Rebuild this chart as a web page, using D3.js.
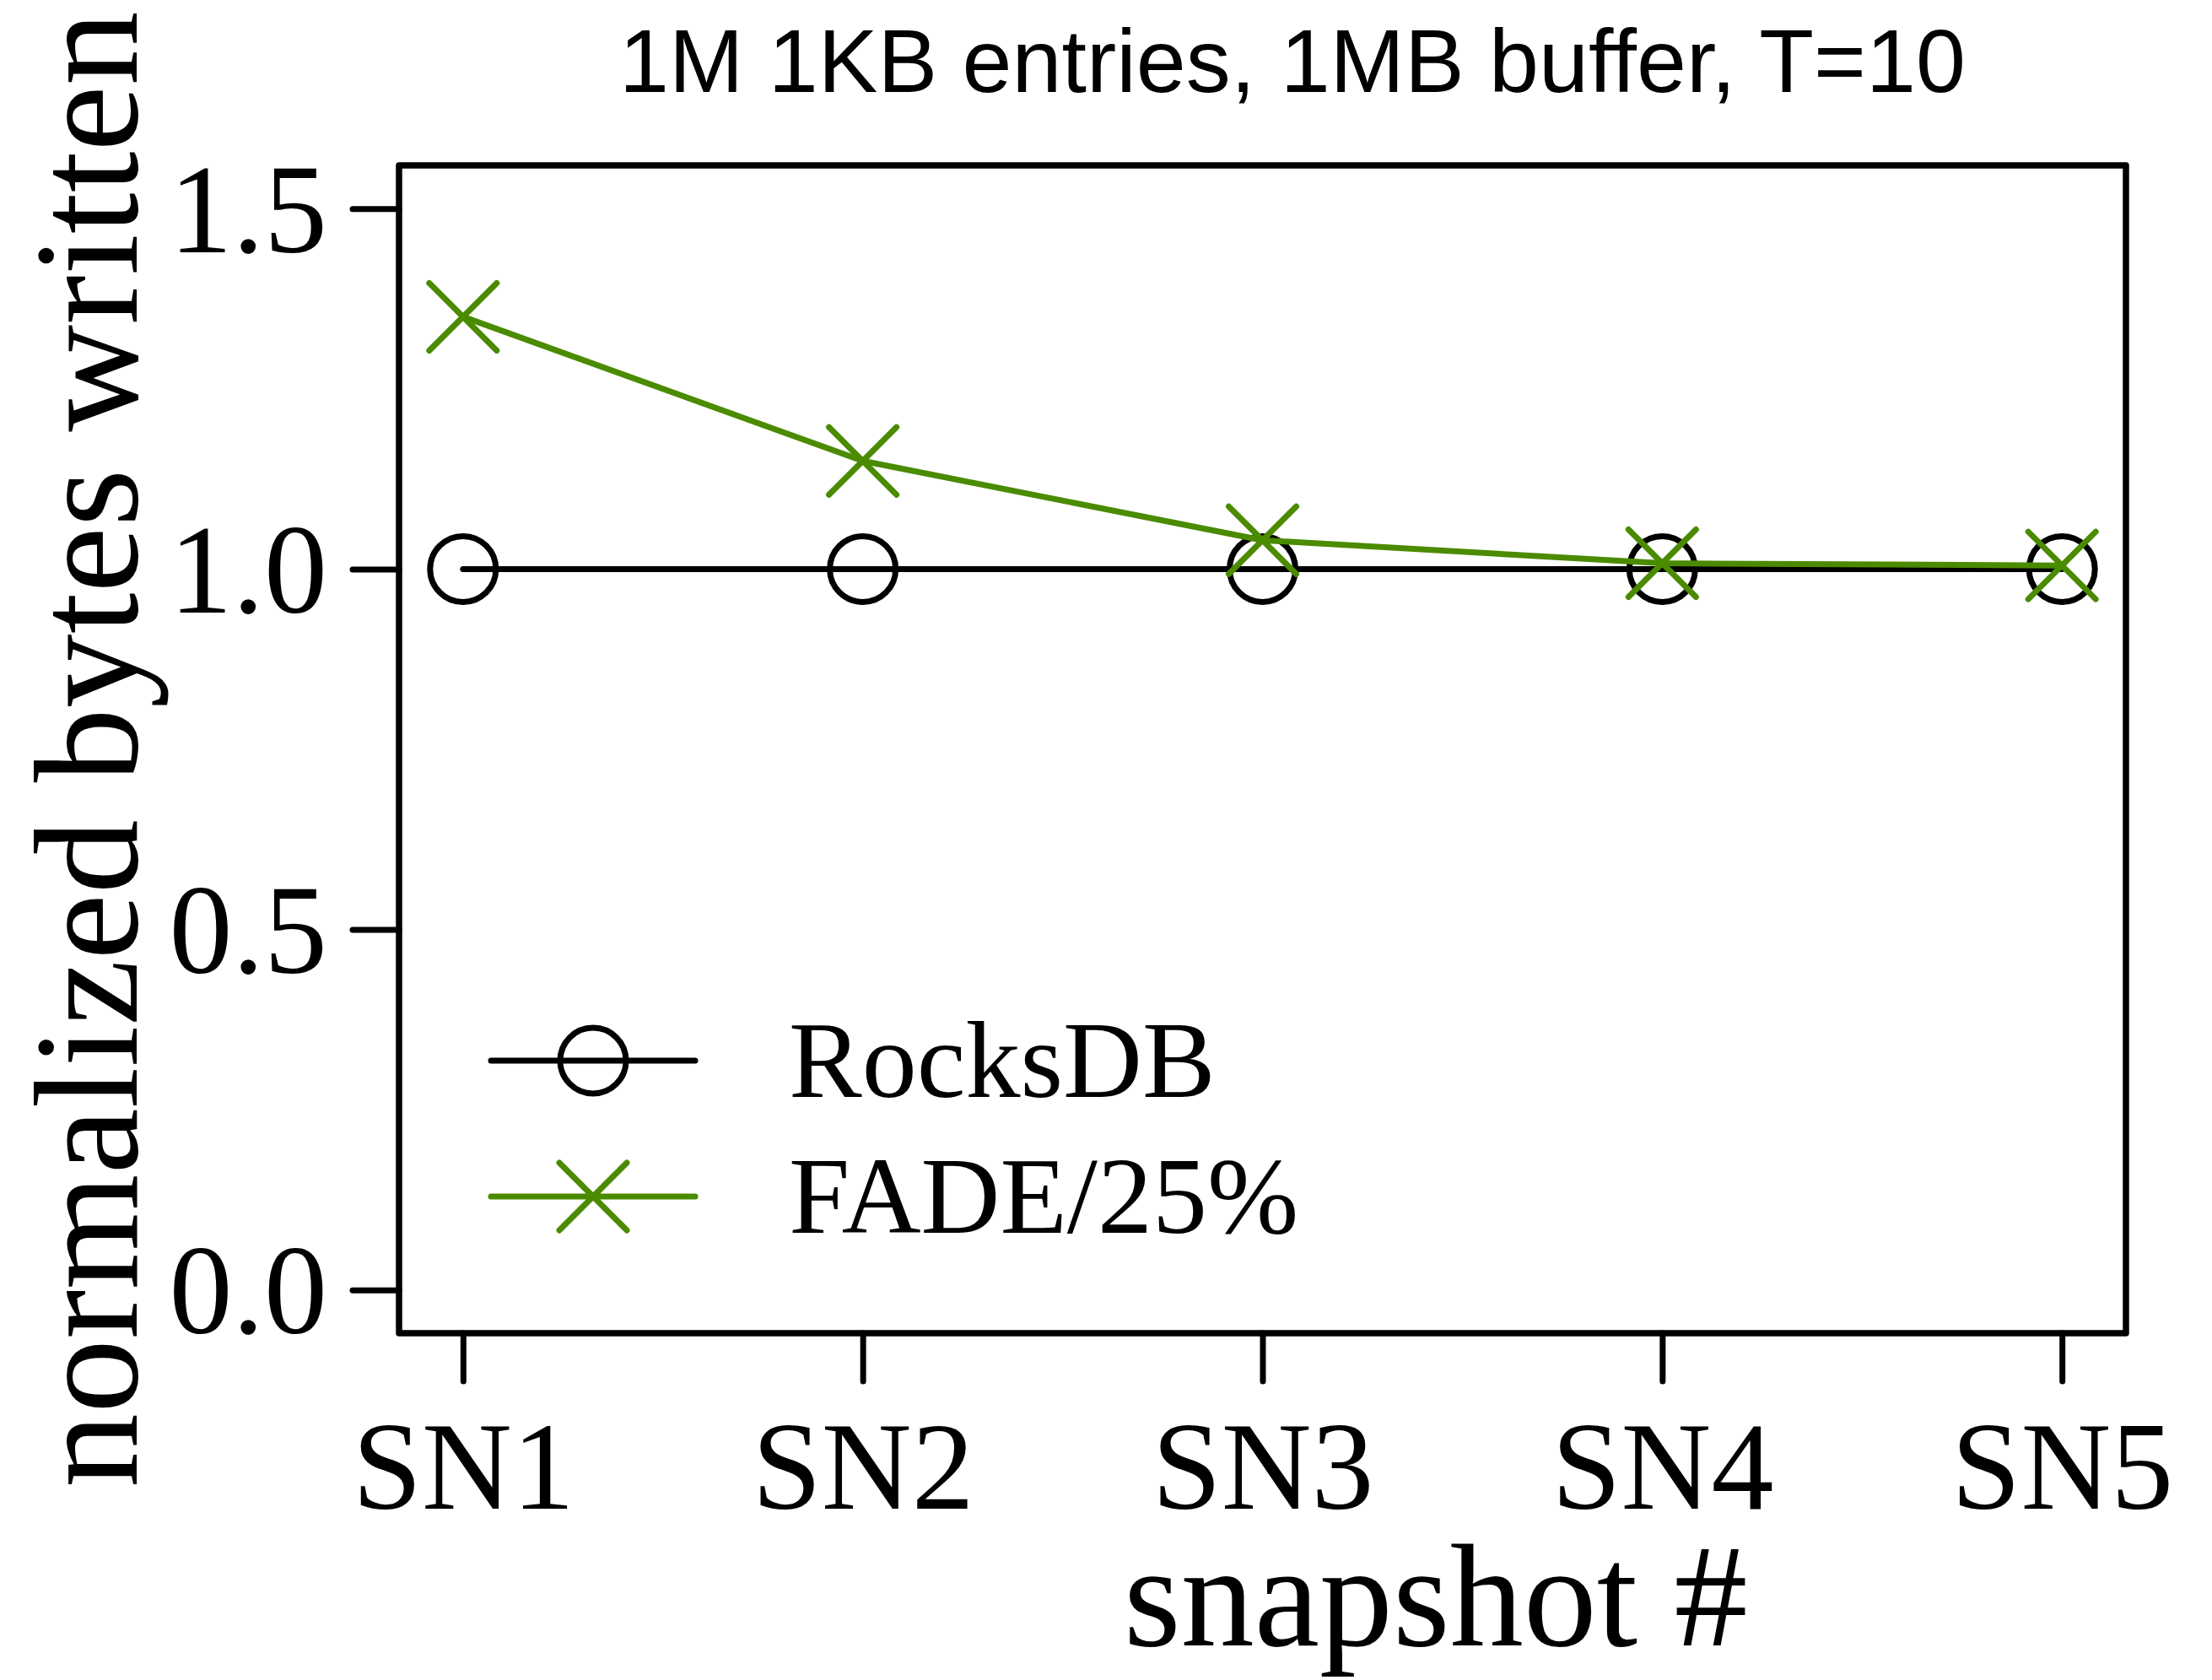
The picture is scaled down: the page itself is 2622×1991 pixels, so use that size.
<!DOCTYPE html>
<html>
<head>
<meta charset="utf-8">
<script src="https://cdn.jsdelivr.net/npm/d3@7"></script>
<style>
  html, body { margin: 0; padding: 0; background: #ffffff; }
  svg { display: block; }
</style>
</head>
<body>
<script>
// ---- data ----
const categories = ["SN1", "SN2", "SN3", "SN4", "SN5"];
const rocksdbValues = [1.0, 1.0, 1.0, 1.0, 1.0];
const fadeValues = [1.35, 1.15, 1.04, 1.008, 1.005];
const seriesNames = ["RocksDB", "FADE/25%"];
const yTickValues = [0.0, 0.5, 1.0, 1.5];
const yDomain = [-0.06, 1.56];
const chartTitle = "1M 1KB entries, 1MB buffer, T=10";
const xAxisTitle = "snapshot #";
const yAxisTitle = "normalized bytes written";

// ---- layout ----
const W = 2622, H = 1991;
const plot = { left: 473, right: 2520, top: 196, bottom: 1580 };
const GREEN = "#4a8b00";
const SERIF = "'Liberation Serif', 'Times New Roman', Times, serif";
const SANS = "'Liberation Sans', Arial, Helvetica, sans-serif";
const LW = 7;

const svg = d3.select("body").append("svg")
  .attr("width", W).attr("height", H)
  .attr("viewBox", `0 0 ${W} ${H}`);

const x = d3.scalePoint().domain(categories)
  .range([plot.left, plot.right]).padding(0.16);
const y = d3.scaleLinear().domain(yDomain)
  .range([plot.bottom, plot.top]);

// y axis
const yAxis = svg.append("g")
  .attr("transform", `translate(${plot.left},0)`)
  .call(d3.axisLeft(y).tickValues(yTickValues).tickSize(55).tickPadding(30)
    .tickFormat(d3.format(".1f")));
yAxis.select(".domain").remove();
yAxis.selectAll(".tick line").attr("stroke", "#000").attr("stroke-width", LW)
  .attr("stroke-linecap", "round");
yAxis.selectAll(".tick text").attr("font-family", SERIF).attr("font-size", 150)
  .attr("fill", "#000").attr("dy", "0.34em");

// x axis
const xAxis = svg.append("g")
  .attr("transform", `translate(0,${plot.bottom})`)
  .call(d3.axisBottom(x).tickSize(57).tickPadding(46));
xAxis.select(".domain").remove();
xAxis.selectAll(".tick line").attr("stroke", "#000").attr("stroke-width", LW)
  .attr("stroke-linecap", "round");
xAxis.selectAll(".tick text").attr("font-family", SERIF).attr("font-size", 148)
  .attr("fill", "#000");

// box
svg.append("rect")
  .attr("x", plot.left).attr("y", plot.top)
  .attr("width", plot.right - plot.left).attr("height", plot.bottom - plot.top)
  .attr("fill", "none").attr("stroke", "#000").attr("stroke-width", 7.5)
  .attr("stroke-linejoin", "round");

// series
const line = d3.line().x((d, i) => x(categories[i])).y(d => y(d));
const R = 39, XS = 40;

function drawCircle(g, cx, cy) {
  g.append("circle").attr("cx", cx).attr("cy", cy).attr("r", R)
    .attr("fill", "none").attr("stroke", "#000").attr("stroke-width", LW);
}
function drawX(g, cx, cy) {
  g.append("path")
    .attr("d", `M${cx - XS},${cy - XS}L${cx + XS},${cy + XS}M${cx - XS},${cy + XS}L${cx + XS},${cy - XS}`)
    .attr("fill", "none").attr("stroke", GREEN).attr("stroke-width", LW)
    .attr("stroke-linecap", "round");
}

const gR = svg.append("g");
gR.append("path").datum(rocksdbValues).attr("d", line)
  .attr("fill", "none").attr("stroke", "#000").attr("stroke-width", LW)
  .attr("stroke-linecap", "round").attr("stroke-linejoin", "round");
rocksdbValues.forEach((v, i) => drawCircle(gR, x(categories[i]), y(v)));

const gF = svg.append("g");
gF.append("path").datum(fadeValues).attr("d", line)
  .attr("fill", "none").attr("stroke", GREEN).attr("stroke-width", LW)
  .attr("stroke-linecap", "round").attr("stroke-linejoin", "round");
fadeValues.forEach((v, i) => drawX(gF, x(categories[i]), y(v)));

// legend
const leg = svg.append("g");
const legX0 = 582, legX1 = 824, legMid = 703, legTextX = 935;
const legRows = [1257, 1418];
leg.append("line").attr("x1", legX0).attr("x2", legX1).attr("y1", legRows[0]).attr("y2", legRows[0])
  .attr("stroke", "#000").attr("stroke-width", LW).attr("stroke-linecap", "round");
drawCircle(leg, legMid, legRows[0]);
leg.append("line").attr("x1", legX0).attr("x2", legX1).attr("y1", legRows[1]).attr("y2", legRows[1])
  .attr("stroke", GREEN).attr("stroke-width", LW).attr("stroke-linecap", "round");
drawX(leg, legMid, legRows[1]);
seriesNames.forEach((name, i) => {
  leg.append("text").attr("x", legTextX).attr("y", legRows[i]).attr("dy", "0.33em")
    .attr("font-family", SERIF).attr("font-size", 130).attr("fill", "#000").text(name);
});

// titles
svg.append("text").attr("x", 1532).attr("y", 109).attr("text-anchor", "middle")
  .attr("font-family", SANS).attr("font-size", 106).attr("font-weight", 300)
  .attr("fill", "#000").text(chartTitle);

svg.append("text").attr("x", 1332).attr("y", 1950).attr("text-anchor", "start")
  .attr("font-family", SERIF).attr("font-size", 174).attr("fill", "#000").text(xAxisTitle);

svg.append("text").attr("transform", "translate(162,1763) rotate(-90)")
  .attr("text-anchor", "start")
  .attr("font-family", SERIF).attr("font-size", 176).attr("fill", "#000").text(yAxisTitle);
</script>
</body>
</html>
